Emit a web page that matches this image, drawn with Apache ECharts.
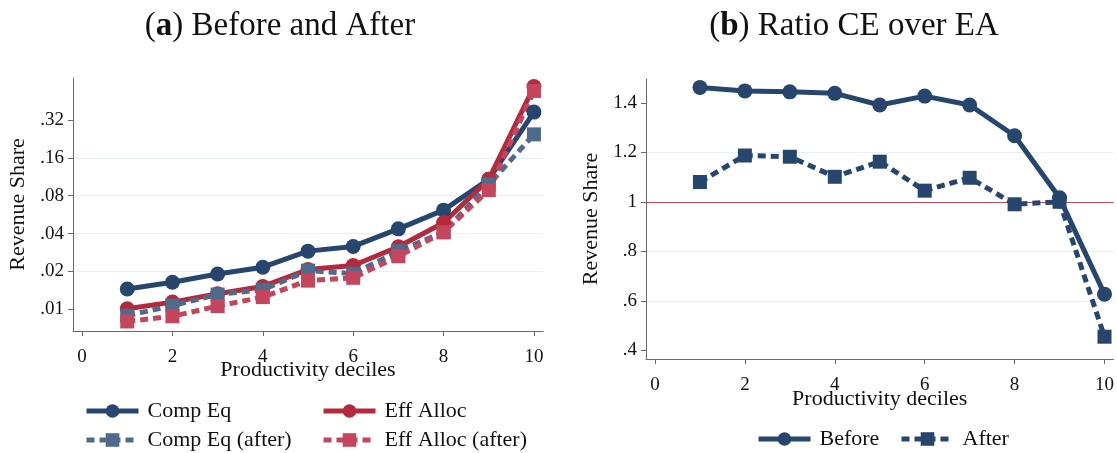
<!DOCTYPE html>
<html><head><meta charset="utf-8">
<script src="https://cdn.jsdelivr.net/npm/echarts@6/dist/echarts.min.js"></script>
<style>html,body{margin:0;padding:0;background:#fff}#c{width:1117px;height:453px}</style>
</head><body><div id="c"></div>
<script>
// ---- data ----
const deciles = [1, 2, 3, 4, 5, 6, 7, 8, 9, 10];
const compEq        = [0.0145, 0.0164, 0.0191, 0.0216, 0.0290, 0.0316, 0.0436, 0.0614, 0.108, 0.37];
const effAlloc      = [0.0101, 0.0114, 0.0133, 0.0152, 0.0207, 0.0223, 0.0314, 0.0487, 0.108, 0.59];
const compEqAfter   = [0.0089, 0.0107, 0.0131, 0.0143, 0.0203, 0.0192, 0.0290, 0.0410, 0.0983, 0.246];
const effAllocAfter = [0.0080, 0.0088, 0.0106, 0.0125, 0.0169, 0.0178, 0.0264, 0.0410, 0.0887, 0.545];
const ratioBefore   = [1.462, 1.448, 1.444, 1.438, 1.391, 1.427, 1.391, 1.267, 1.016, 0.627];
const ratioAfter    = [1.080, 1.187, 1.182, 1.101, 1.162, 1.045, 1.097, 0.990, 1.000, 0.455];
const xTicks = [0, 2, 4, 6, 8, 10];
const leftTickValues = [0.01, 0.02, 0.04, 0.08, 0.16, 0.32];
const leftTickLabels = ['.01', '.02', '.04', '.08', '.16', '.32'];
const rightTickValues = [0.4, 0.6, 0.8, 1.0, 1.2, 1.4];
const rightTickLabels = ['.4', '.6', '.8', '1', '1.2', '1.4'];

// log2 scale relative to .01 (axis is base-2 log)
const BASE = 0.01;
const toLog = v => Math.log2(v / BASE);
const leftTickPos = leftTickValues.map(toLog);

const FONT = 'Liberation Serif';
const C_NAVY = '#27466e', C_RED = '#b42a3c', C_SLATE = '#4f6b8c', C_PINK = '#c4455c';
const AXIS_C = '#6a6a6a';
const GRID_C = '#e9f0f1';

function xAxis(gridIndex, nameGap) {
  return {
    type: 'value', gridIndex, min: -0.2, max: 10.2,
    name: 'Productivity deciles', nameLocation: 'middle', nameGap, nameMoveOverlap: false,
    nameTextStyle: { fontFamily: FONT, fontSize: 22, color: '#111' },
    axisLine: { show: true, onZero: false, lineStyle: { color: AXIS_C, width: 1 } },
    axisTick: { show: true, length: 5, customValues: xTicks, lineStyle: { color: AXIS_C } },
    axisLabel: { customValues: xTicks, fontFamily: FONT, fontSize: 19, color: '#111', margin: 17 },
    splitLine: { show: false }
  };
}
function yAxisBase(gridIndex) {
  return {
    type: 'value', gridIndex,
    name: 'Revenue Share', nameLocation: 'middle', nameGap: 44, nameMoveOverlap: false,
    nameTextStyle: { fontFamily: FONT, fontSize: 22, color: '#111' },
    axisLine: { show: true, onZero: false, lineStyle: { color: AXIS_C, width: 1 } },
    axisTick: { show: true, length: 5, lineStyle: { color: AXIS_C } },
    axisLabel: { fontFamily: FONT, fontSize: 19, color: '#111', margin: 9 },
    splitLine: { show: true, showMinLine: false, showMaxLine: false, lineStyle: { color: GRID_C, width: 1 } }
  };
}

const yLeft = yAxisBase(0);
Object.assign(yLeft, { min: -0.574, max: 6.11, minInterval: 1, maxInterval: 1 });
yLeft.axisTick.customValues = leftTickPos;
yLeft.axisLabel.customValues = leftTickPos;
yLeft.axisLabel.formatter = v => {
  const i = leftTickPos.findIndex(p => Math.abs(p - v) < 1e-6);
  return i >= 0 ? leftTickLabels[i] : '';
};

const yRight = yAxisBase(1);
Object.assign(yRight, { min: 0.365, max: 1.496, minInterval: 0.2, maxInterval: 0.2 });
yRight.axisTick.customValues = rightTickValues;
yRight.axisLabel.customValues = rightTickValues;
yRight.axisLabel.formatter = v => {
  const i = rightTickValues.findIndex(p => Math.abs(p - v) < 1e-6);
  return i >= 0 ? rightTickLabels[i] : '';
};

function lineSeries(name, vals, color, symbol, dashed, xi, yi, transform, size) {
  return {
    name, type: 'line', xAxisIndex: xi, yAxisIndex: yi,
    data: deciles.map((d, i) => [d, transform ? transform(vals[i]) : vals[i]]),
    symbol, symbolSize: size, showSymbol: true,
    itemStyle: { color },
    lineStyle: { color, width: 5, type: dashed ? [8, 5] : 'solid', cap: 'butt' },
    emphasis: { disabled: true }, silent: true, clip: false
  };
}

function legendItem(name, left, top) {
  return {
    data: [name], left, top, orient: 'horizontal', padding: 0,
    itemWidth: 52, itemHeight: 17, selectedMode: false,
    lineStyle: { width: 5 },
    textStyle: { fontFamily: FONT, fontSize: 22, color: '#111', padding: [0, 0, 0, 4] }
  };
}

const chart = echarts.init(document.getElementById('c'), null, { renderer: 'canvas' });
chart.setOption({
  animation: false,
  backgroundColor: '#fff',
  title: [
    { text: '({b|a}) Before and After', left: 275, top: 5, textAlign: 'center',
      textStyle: { fontFamily: FONT, fontSize: 33, fontWeight: 'normal', color: '#111',
        rich: { b: { fontFamily: FONT, fontSize: 33, fontWeight: 'bold', color: '#111' } } } },
    { text: '({b|b}) Ratio CE over EA', left: 849, top: 5, textAlign: 'center',
      textStyle: { fontFamily: FONT, fontSize: 33, fontWeight: 'normal', color: '#111',
        rich: { b: { fontFamily: FONT, fontSize: 33, fontWeight: 'bold', color: '#111' } } } }
  ],
  grid: [
    { left: 73, top: 78, width: 470, height: 253 },
    { left: 646, top: 79, width: 468, height: 280 }
  ],
  xAxis: [xAxis(0, 28), xAxis(1, 29)],
  yAxis: [yLeft, yRight],
  legend: [
    legendItem('Comp Eq', 84, 400),
    legendItem('Eff Alloc', 321, 400),
    legendItem('Comp Eq (after)', 84, 429),
    legendItem('Eff Alloc (after)', 321, 429),
    legendItem('Before', 756, 428),
    legendItem('After', 899, 428)
  ],
  series: [
    lineSeries('Comp Eq', compEq, C_NAVY, 'circle', false, 0, 0, toLog, 15),
    lineSeries('Eff Alloc', effAlloc, C_RED, 'circle', false, 0, 0, toLog, 15),
    lineSeries('Comp Eq (after)', compEqAfter, C_SLATE, 'rect', true, 0, 0, toLog, 14),
    lineSeries('Eff Alloc (after)', effAllocAfter, C_PINK, 'rect', true, 0, 0, toLog, 14),
    Object.assign(lineSeries('Before', ratioBefore, C_NAVY, 'circle', false, 1, 1, null, 15), {
      markLine: { silent: true, symbol: 'none', label: { show: false },
        lineStyle: { color: '#c9495b', width: 1, type: 'solid' },
        data: [{ yAxis: 1 }] , z: 1}
    }),
    lineSeries('After', ratioAfter, C_NAVY, 'rect', true, 1, 1, null, 14)
  ]
});
</script>
</body></html>
